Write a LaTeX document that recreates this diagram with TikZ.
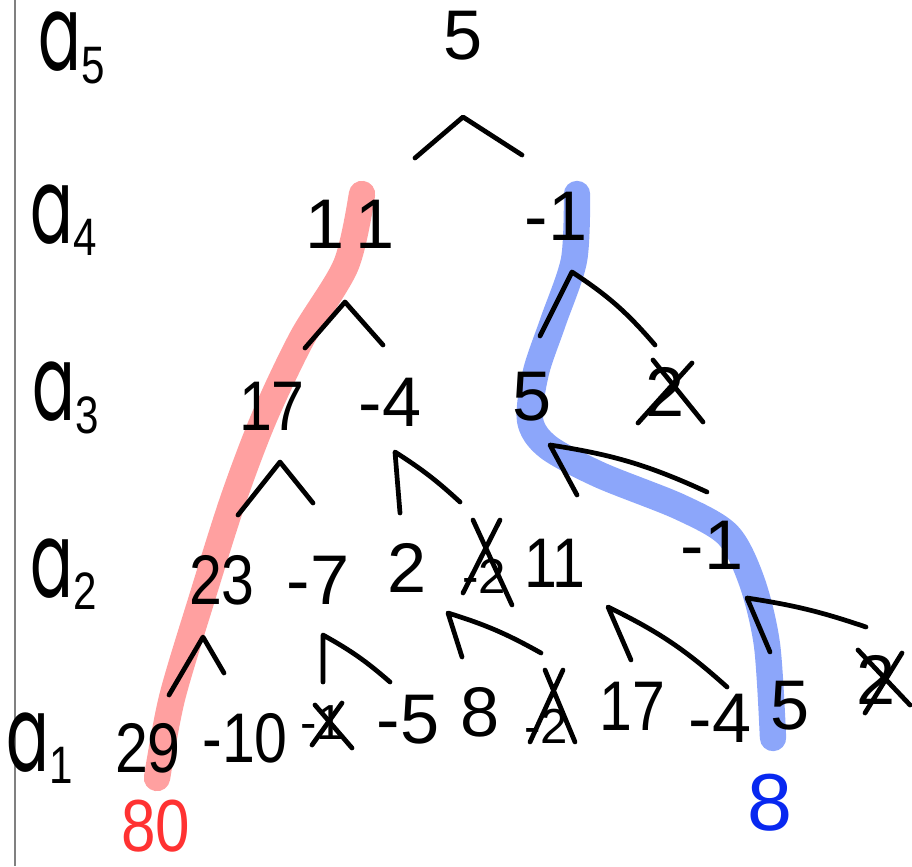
\documentclass[tikz,border=0pt]{standalone}
\usepackage{graphicx}
\usepackage{fontspec}
\setmainfont{Liberation Sans}
\newfontfamily\handfont{Poppins}
\usepackage{xcolor}
\usepackage{tikz}
\usetikzlibrary{positioning}
\definecolor{hlRed}{RGB}{255,160,160}
\definecolor{hlBlue}{RGB}{140,166,250}
\definecolor{inkRed}{RGB}{255,50,50}
\definecolor{inkBlue}{RGB}{8,40,240}
\newcommand{\lvl}[1]{\scalebox{0.6}[1]{\handfont\fontsize{60}{60}\selectfont a}\raisebox{-7pt}{\scalebox{0.8}[1]{\fontsize{30}{30}\selectfont #1}}}
\newcommand{\narrow}[1]{\scalebox{0.84}[1]{#1}}

\begin{document}
\begin{tikzpicture}[x=0.02cm, y=-0.02cm,
  num/.style={inner sep=0pt, font=\fontsize{40}{40}\selectfont},
  tiny/.style={inner sep=0pt, font=\fontsize{28}{28}\selectfont},
  lbl/.style={inner sep=0pt},
  ink/.style={line width=2.7pt, line cap=round, line join=round},
  hl/.style={line width=15pt, line cap=round, line join=round},
]
  \useasboundingbox (0,0) rectangle (912,866);
  \draw[gray, line width=0.8pt] (15,0) -- (15,866);

  \draw[hl, hlRed] plot[smooth] coordinates {(362,194) (346,265) (302,338) (264,418) (233,500) (202,598) (172,698) (157,778)};
  \draw[hl, hlBlue] plot[smooth] coordinates {(577,194) (574,260) (553,322) (536,372) (530,420) (548,447) (600,475) (680,507) (728,535) (752,582) (767,645) (773,738)};

  \node[lbl] (la5) at (72,48) {\lvl{5}};
  \node[lbl] (la4) at (64,220) {\lvl{4}};
  \node[lbl] (la3) at (66,398) {\lvl{3}};
  \node[lbl] (la2) at (64,574) {\lvl{2}};
  \node[lbl] (la1) at (40,748) {\lvl{1}};

  \node[num] (v51) at (463,36) {5};

  \node[num] (v41) at (350,224) {1\hspace{6pt}1};
  \node[num] (v42) at (556,216) {-1};

  \node[num] (v31) at (272,406) {\narrow{17}};
  \node[num] (v32) at (390,402) {-4};
  \node[num] (v33) at (532,397) {5};
  \node[num] (v34) at (665,392) {2};

  \node[num] (v21) at (222,580) {\narrow{23}};
  \node[num] (v22) at (318,580) {-7};
  \node[num] (v23) at (407,568) {2};
  \node[tiny] (v24) at (484,576) {-2};
  \node[num] (v25) at (555,563) {\narrow{11}};
  \node[num] (v26) at (712,545) {-1};

  \node[num] (v11) at (148,748) {\narrow{29}};
  \node[num] (v12) at (245,738) {\narrow{-10}};
  \node[tiny] (v13) at (322,723) {-1};
  \node[num] (v14) at (408,720) {-5};
  \node[num] (v15) at (480,712) {8};
  \node[tiny] (v16) at (546,726) {-2};
  \node[num] (v17) at (632,706) {\narrow{17}};
  \node[num] (v18) at (720,718) {-4};
  \node[num] (v19) at (790,706) {5};
  \node[num] (v110) at (876,680) {2};

  \node[num, text=inkRed, font=\fontsize{42}{42}\selectfont] (sumR) at (156,826) {\narrow{80}};
  \node[num, text=inkBlue, font=\fontsize{46}{46}\selectfont] (sumB) at (770,803) {8};

  \draw[ink] (415,158) -- (463,117) -- (522,155);
  \draw[ink] (305,348) -- (345,302) -- (383,345);
  \draw[ink] (540,336) -- (572,272) to[bend left=8] (655,345);
  \draw[ink] (238,515) -- (280,462) -- (313,503);
  \draw[ink] (400,513) -- (395,452) to[bend left=5] (460,502);
  \draw[ink] (577,495) -- (550,445) to[bend left=8] (707,492);
  \draw[ink] (169,695) -- (203,637) -- (224,673);
  \draw[ink] (323,682) -- (323,635) to[bend left=6] (390,682);
  \draw[ink] (462,657) -- (448,613) to[bend left=6] (541,653);
  \draw[ink] (631,660) -- (608,607) to[bend left=8] (727,687);
  \draw[ink] (770,652) -- (747,598) to[bend left=5] (866,627);

  \draw[ink] (653,360) -- (703,422) (692,363) -- (638,423);
  \draw[ink] (473,520) -- (512,605) (500,520) -- (463,593);
  \draw[ink] (315,705) -- (352,748) (342,703) -- (312,745);
  \draw[ink] (545,670) -- (575,742) (563,670) -- (530,742);
  \draw[ink] (858,650) -- (910,705) (902,653) -- (865,713);
\end{tikzpicture}
\end{document}
